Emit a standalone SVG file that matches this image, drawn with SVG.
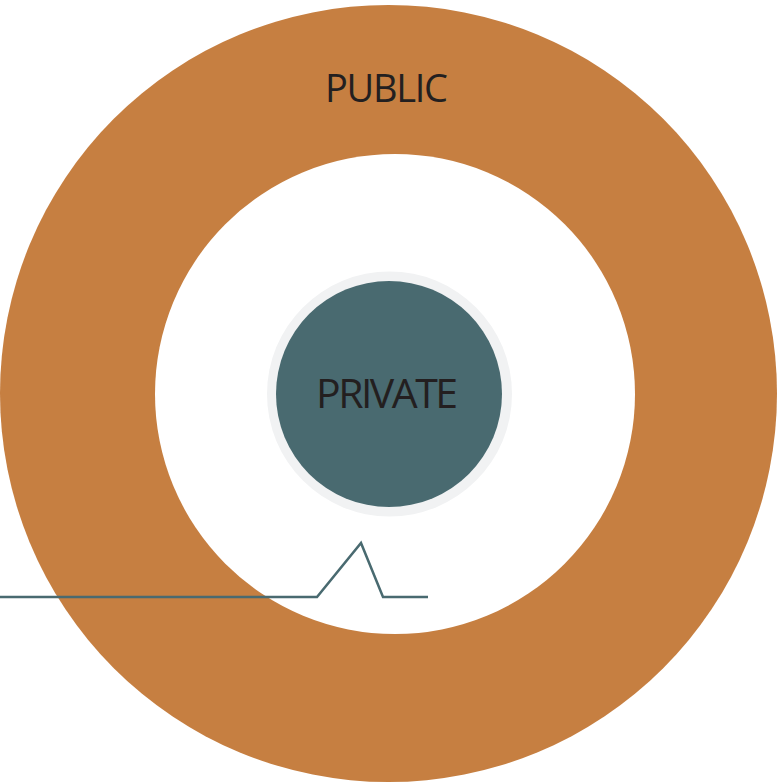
<svg xmlns="http://www.w3.org/2000/svg" width="777" height="783" viewBox="0 0 777 783">
<style>
.lbl{font-family:"Open Sans","Liberation Sans",sans-serif;fill:#231F20;text-anchor:middle}
</style>
<rect width="777" height="783" fill="#ffffff"/>
<g id="public">
<circle cx="388.5" cy="393.5" r="388.5" fill="#C67F41"/>
<circle cx="395" cy="394" r="240" fill="#ffffff"/>
<text class="lbl" x="386.5" y="102" font-size="38" textLength="123" lengthAdjust="spacing">PUBLIC</text>
</g>
<g id="private">
<circle cx="389.5" cy="394" r="122.5" fill="#F1F2F3"/>
<circle cx="389" cy="394" r="113" fill="#496A70"/>
<text class="lbl" x="387" y="408" font-size="41" textLength="142" lengthAdjust="spacing">PRIVATE</text>
</g>
<g id="connectors">
<polyline points="0,597 317,597 361,543 383,597 428,597" fill="none" stroke="#496A70" stroke-width="2.5"/>
</g>
</svg>
